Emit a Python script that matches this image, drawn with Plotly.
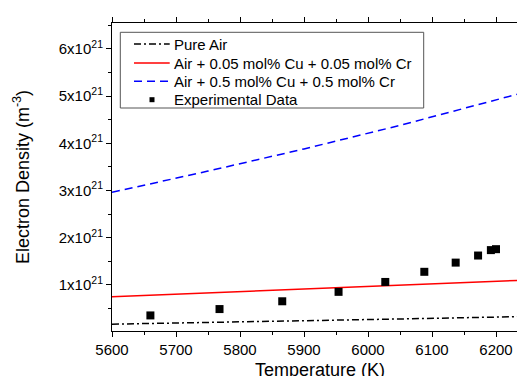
import plotly.graph_objects as go

# Theoretical curves (temperature in K, electron density in m^-3)
t_curve = [5600, 5750, 5900, 6050, 6250]
pure_air = [0.165e21, 0.198e21, 0.235e21, 0.275e21, 0.328e21]
air_005 = [0.745e21, 0.830e21, 0.915e21, 0.995e21, 1.10e21]
air_05 = [2.96e21, 3.41e21, 3.88e21, 4.38e21, 5.10e21]

# Experimental data
t_exp = [5660, 5768, 5866, 5954, 6027, 6088, 6137, 6172, 6192, 6200]
ne_exp = [0.35e21, 0.485e21, 0.65e21, 0.85e21, 1.06e21, 1.275e21, 1.47e21, 1.62e21, 1.735e21, 1.755e21]

series_names = ["Pure Air", "Air + 0.05 mol% Cu + 0.05 mol% Cr",
                "Air + 0.5 mol% Cu + 0.5 mol% Cr", "Experimental Data"]

x_ticks = [5600, 5700, 5800, 5900, 6000, 6100, 6200]
y_ticks = [1e21, 2e21, 3e21, 4e21, 5e21, 6e21]
y_tick_text = ["1x10<sup>21</sup>", "2x10<sup>21</sup>", "3x10<sup>21</sup>",
               "4x10<sup>21</sup>", "5x10<sup>21</sup>", "6x10<sup>21</sup>"]

FONT = "Liberation Sans, Arial"
styles = [
    dict(color="black", width=1.5, dash="7px,3px,2px,3px"),
    dict(color="#ff0000", width=1.5),
    dict(color="#0000ff", width=1.5, dash="8px,5px"),
]

fig = go.Figure()
for name, ys, st in zip(series_names[:3], [pure_air, air_005, air_05], styles):
    fig.add_trace(go.Scatter(x=t_curve, y=ys, mode="lines", name=name, line=st))
fig.add_trace(go.Scatter(x=t_exp, y=ne_exp, mode="markers", name=series_names[3],
                         marker=dict(symbol="square", size=8, color="black")))

# Legend drawn in paper coordinates (plot area: x 104..520, y 15..323 px)
def px_x(p):
    return (p - 104) / 416.0

def px_y(p):
    return (323 - p) / 308.0

fig.add_shape(type="rect", xref="paper", yref="paper",
              x0=px_x(112.3), x1=px_x(415.7), y0=px_y(100), y1=px_y(24.3),
              line=dict(color="#555555", width=1), fillcolor="white", layer="above")
row_y = [36, 55, 73.3, 91.7]
for i, name in enumerate(series_names):
    yy = px_y(row_y[i])
    if i < 3:
        fig.add_shape(type="line", xref="paper", yref="paper",
                      x0=px_x(126), x1=px_x(161.7), y0=yy, y1=yy,
                      line=styles[i], layer="above")
    else:
        fig.add_shape(type="rect", xref="paper", yref="paper",
                      x0=px_x(141.5), x1=px_x(146.5), y0=px_y(row_y[i] + 2.5), y1=px_y(row_y[i] - 2.5),
                      line=dict(width=0), fillcolor="black", layer="above")
    fig.add_annotation(xref="paper", yref="paper", x=px_x(164), y=yy,
                       xanchor="left", yanchor="middle", text=name, showarrow=False,
                       font=dict(family=FONT, size=15, color="black"))

axis_common = dict(showline=True, linecolor="black", linewidth=1, mirror="ticks",
                   ticks="outside", ticklen=5, tickwidth=1, tickcolor="black",
                   showgrid=False, zeroline=False, automargin=False,
                   tickfont=dict(family=FONT, size=15, color="black"))

fig.update_xaxes(range=[5600, 6250], tickvals=x_ticks,
                 minor=dict(dtick=50, ticks="outside", ticklen=3, tickcolor="black", showgrid=False),
                 title=dict(text="Temperature (K)", standoff=6,
                            font=dict(family=FONT, size=18, color="black")),
                 **axis_common)
fig.update_yaxes(range=[0.02e21, 6.55e21], tickvals=y_ticks, ticktext=y_tick_text,
                 minor=dict(tickvals=[0.5e21, 1.5e21, 2.5e21, 3.5e21, 4.5e21, 5.5e21, 6.5e21],
                            ticks="outside", ticklen=3, tickcolor="black", showgrid=False),
                 title=dict(text="Electron Density (m<sup>-3</sup>)", standoff=24,
                            font=dict(family=FONT, size=18, color="black")),
                 **axis_common)

fig.update_layout(
    width=525, height=376,
    margin=dict(l=104, r=5, t=15, b=53),
    plot_bgcolor="white", paper_bgcolor="white",
    font=dict(family=FONT, color="black"),
    showlegend=False,
)

fig.write_html("out.html")
